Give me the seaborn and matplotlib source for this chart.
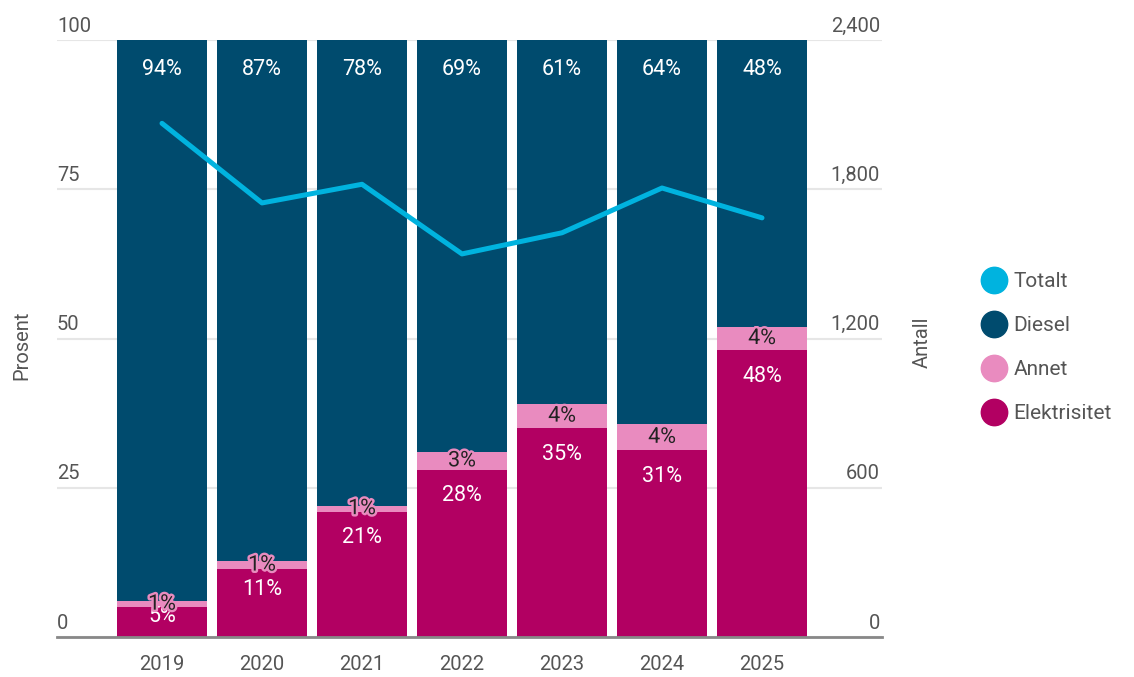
import matplotlib
matplotlib.use("Agg")
import matplotlib.pyplot as plt
import matplotlib.patheffects as pe
from matplotlib.lines import Line2D
import numpy as np
import pandas as pd
import seaborn as sns

# data
years = ['2019', '2020', '2021', '2022', '2023', '2024', '2025']
elektrisitet = [5, 11.4, 21, 28, 35, 31.3, 48]
annet = [1, 1.3, 1, 3, 4, 4.3, 4]
diesel = [94, 87.3, 78, 69, 61, 64.4, 48]
totalt = [2065, 1745, 1820, 1540, 1625, 1805, 1685]

c_el = '#b20062'
c_an = '#e98bbf'
c_di = '#004b6e'
c_tot = '#00b3df'
grey = '#555555'

sns.set_style('white')
plt.rcParams['font.family'] = ['Roboto', 'DejaVu Sans']

df = pd.DataFrame({'year': years, 'el': elektrisitet, 'an': annet, 'di': diesel})
df['el_an'] = df['el'] + df['an']
df['tot'] = df['el_an'] + df['di']

fig = plt.figure(figsize=(11.34, 6.77), dpi=100)
ax = fig.add_axes([57 / 1134, 40 / 677, 825 / 1134, 597 / 677])

# stacked bars: draw cumulative heights back to front
for col, c in [('tot', c_di), ('el_an', c_an), ('el', c_el)]:
    sns.barplot(data=df, x='year', y=col, color=c, width=0.9, saturation=1,
                linewidth=0, ax=ax, zorder=2)

ax.set_xlim(-1.05, 7.2)
ax.set_ylim(0, 100)
ax.set_yticks([0, 25, 50, 75, 100])
ax.set_yticklabels([])
ax.yaxis.grid(True, color='#e6e6e6', linewidth=1.5, zorder=0)
ax.set_axisbelow(True)
ax.set_xlabel('')
ax.set_ylabel('')
for s in ['top', 'left', 'right']:
    ax.spines[s].set_visible(False)
ax.spines['bottom'].set_color('#888888')
ax.spines['bottom'].set_linewidth(2)
ax.tick_params(axis='x', length=0, pad=13, labelsize=14.5, labelcolor=grey)
ax.tick_params(axis='y', length=0)

for t in [0, 25, 50, 75, 100]:
    ax.annotate(str(t), (0, t), xycoords=ax.get_yaxis_transform(),
                xytext=(0, 10), textcoords='offset points',
                ha='left', va='center', fontsize=14.5, color=grey)

# bar labels
px_per_pct = 597 / 100
for i in range(len(years)):
    el = elektrisitet[i]
    off = min(26, 0.3 * el * px_per_pct) * 0.72
    ax.annotate(f"{el:.0f}%", (i, el), xytext=(0, -off), textcoords='offset points',
                ha='center', va='center', color='white', fontsize=15.5, zorder=5)
    ax.annotate(f"{diesel[i]:.0f}%", (i, 100), xytext=(0, -21), textcoords='offset points',
                ha='center', va='center', color='white', fontsize=15.5, zorder=5)
for i in range(len(years)):
    ax.text(i, elektrisitet[i] + annet[i] / 2, f"{annet[i]:.0f}%", ha='center', va='center',
            color='#222222', fontsize=15.5, zorder=6,
            path_effects=[pe.withStroke(linewidth=3.5, foreground=c_an)])

# total line on the right axis
ax2 = ax.twinx()
sns.lineplot(x=np.arange(len(years)), y=totalt, color=c_tot, linewidth=3.6, ax=ax2)
ax2.set_ylim(0, 2400)
ax2.set_xlim(-1.05, 7.2)
ax2.set_yticks([0, 600, 1200, 1800, 2400])
ax2.set_yticklabels([])
ax2.tick_params(axis='y', length=0)
for s in ['top', 'left', 'right', 'bottom']:
    ax2.spines[s].set_visible(False)
for t in [0, 600, 1200, 1800, 2400]:
    ax2.annotate(f"{t:,}", (1, t), xycoords=ax2.get_yaxis_transform(),
                 xytext=(-1.5, 10), textcoords='offset points',
                 ha='right', va='center', fontsize=14.5, color=grey)

fig.text(22 / 1134, 1 - 345 / 677, 'Prosent', rotation=90, ha='center', va='center',
         fontsize=14.5, color=grey)
fig.text(922 / 1134, 1 - 342 / 677, 'Antall', rotation=90, ha='center', va='center',
         fontsize=14.5, color=grey)

handles = [Line2D([], [], marker='o', linestyle='', markersize=19, color=c)
           for c in [c_tot, c_di, c_an, c_el]]
fig.legend(handles, ['Totalt', 'Diesel', 'Annet', 'Elektrisitet'],
           loc='upper left', bbox_to_anchor=(972 / 1134, 1 - 264 / 677),
           frameon=False, fontsize=15, labelcolor=grey, handletextpad=0.3,
           labelspacing=1.2, handlelength=1.3, borderaxespad=0)

fig.savefig('out.png', dpi=100)
